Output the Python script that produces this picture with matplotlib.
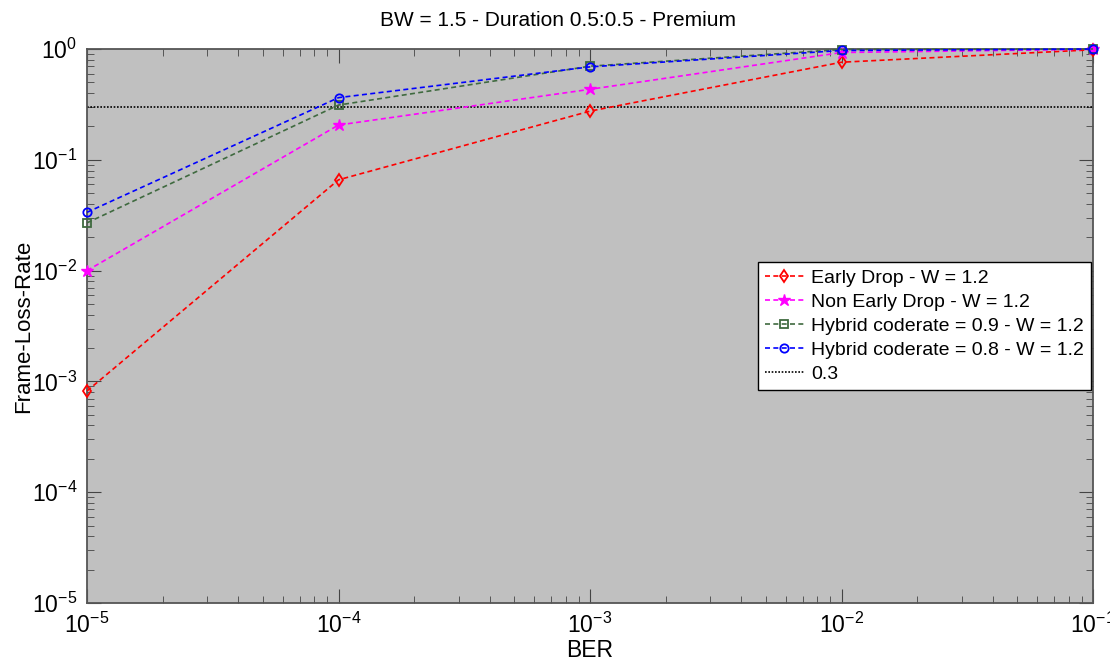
import numpy as np
import matplotlib
matplotlib.use("Agg")
import matplotlib.pyplot as plt
from matplotlib.ticker import LogLocator, NullFormatter

plt.rcParams['font.family'] = ['Liberation Sans', 'DejaVu Sans']
plt.rcParams['mathtext.fontset'] = 'custom'
plt.rcParams['mathtext.rm'] = 'Liberation Sans'
plt.rcParams['mathtext.it'] = 'Liberation Sans'
plt.rcParams['mathtext.default'] = 'regular'

# values
ber = [1e-5, 1e-4, 1e-3, 1e-2, 1e-1]
early_drop = [8.2e-4, 0.066, 0.275, 0.76, 0.985]
non_early_drop = [0.0100, 0.206, 0.433, 0.93, 0.995]
hybrid_09 = [0.027, 0.312, 0.70, 0.99, 1.0]
hybrid_08 = [0.0336, 0.364, 0.69, 0.97, 1.0]
threshold = 0.3

labels = ["Early Drop - W = 1.2",
          "Non Early Drop - W = 1.2",
          "Hybrid coderate = 0.9 - W = 1.2",
          "Hybrid coderate = 0.8 - W = 1.2",
          "0.3"]

fig = plt.figure(figsize=(11.1, 6.66), dpi=100)
ax = fig.add_axes([0.0784, 0.0946, 0.9063, 0.8318])
ax.set_facecolor('#c0c0c0')

dash = (0, (3, 2))
common = dict(linestyle=dash, lw=1.2, clip_on=False, zorder=3)
ax.plot(ber, early_drop, color='red', marker='d', ms=6.5, mfc='none', mew=1.3,
        label=labels[0], **common)
ax.plot(ber, non_early_drop, color='magenta', marker='*', ms=9,
        label=labels[1], **common)
ax.plot(ber, hybrid_09, color='#3f6a3f', marker='s', ms=6, mfc='none', mew=1.3,
        label=labels[2], **common)
ax.plot(ber, hybrid_08, color='blue', marker='o', ms=6, mfc='none', mew=1.3,
        label=labels[3], **common)
ax.axhline(threshold, color='black', linestyle=(0, (1, 1)), lw=1.2, label=labels[4])

ax.set_xscale('log')
ax.set_yscale('log')
ax.set_xlim(1e-5, 1e-1)
ax.set_ylim(1e-5, 1)
ax.xaxis.set_major_locator(LogLocator(base=10, numticks=10))
ax.yaxis.set_major_locator(LogLocator(base=10, numticks=10))
ax.xaxis.set_minor_locator(LogLocator(base=10, subs=np.arange(2, 10), numticks=20))
ax.yaxis.set_minor_locator(LogLocator(base=10, subs=np.arange(2, 10), numticks=20))
ax.xaxis.set_minor_formatter(NullFormatter())
ax.yaxis.set_minor_formatter(NullFormatter())

for s in ax.spines.values():
    s.set_color('#555555')
    s.set_linewidth(1.3)
ax.tick_params(which='both', direction='in', top=True, right=True, color='#444444')
ax.tick_params(which='major', length=10, labelsize=16.5, pad=7)
ax.tick_params(which='minor', length=5)

# title is centred on the figure, not on the axes
fig.text(558 / 1110, 1 - 21 / 666, "BW = 1.5 - Duration 0.5:0.5 - Premium",
         fontsize=15, ha='center', va='center')
ax.set_xlabel("BER", fontsize=16.5, labelpad=1)
ax.set_ylabel("Frame-Loss-Rate", fontsize=16, labelpad=-2)

leg = ax.legend(loc='center right', bbox_to_anchor=(1.0, 0.5), borderaxespad=0.1,
                fancybox=False, framealpha=1, edgecolor='black', fontsize=14,
                handlelength=2.0, labelspacing=0.33, borderpad=0.35, handletextpad=0.4)
leg.get_frame().set_linewidth(1.0)

fig.savefig("out.png", dpi=100, facecolor='white')
